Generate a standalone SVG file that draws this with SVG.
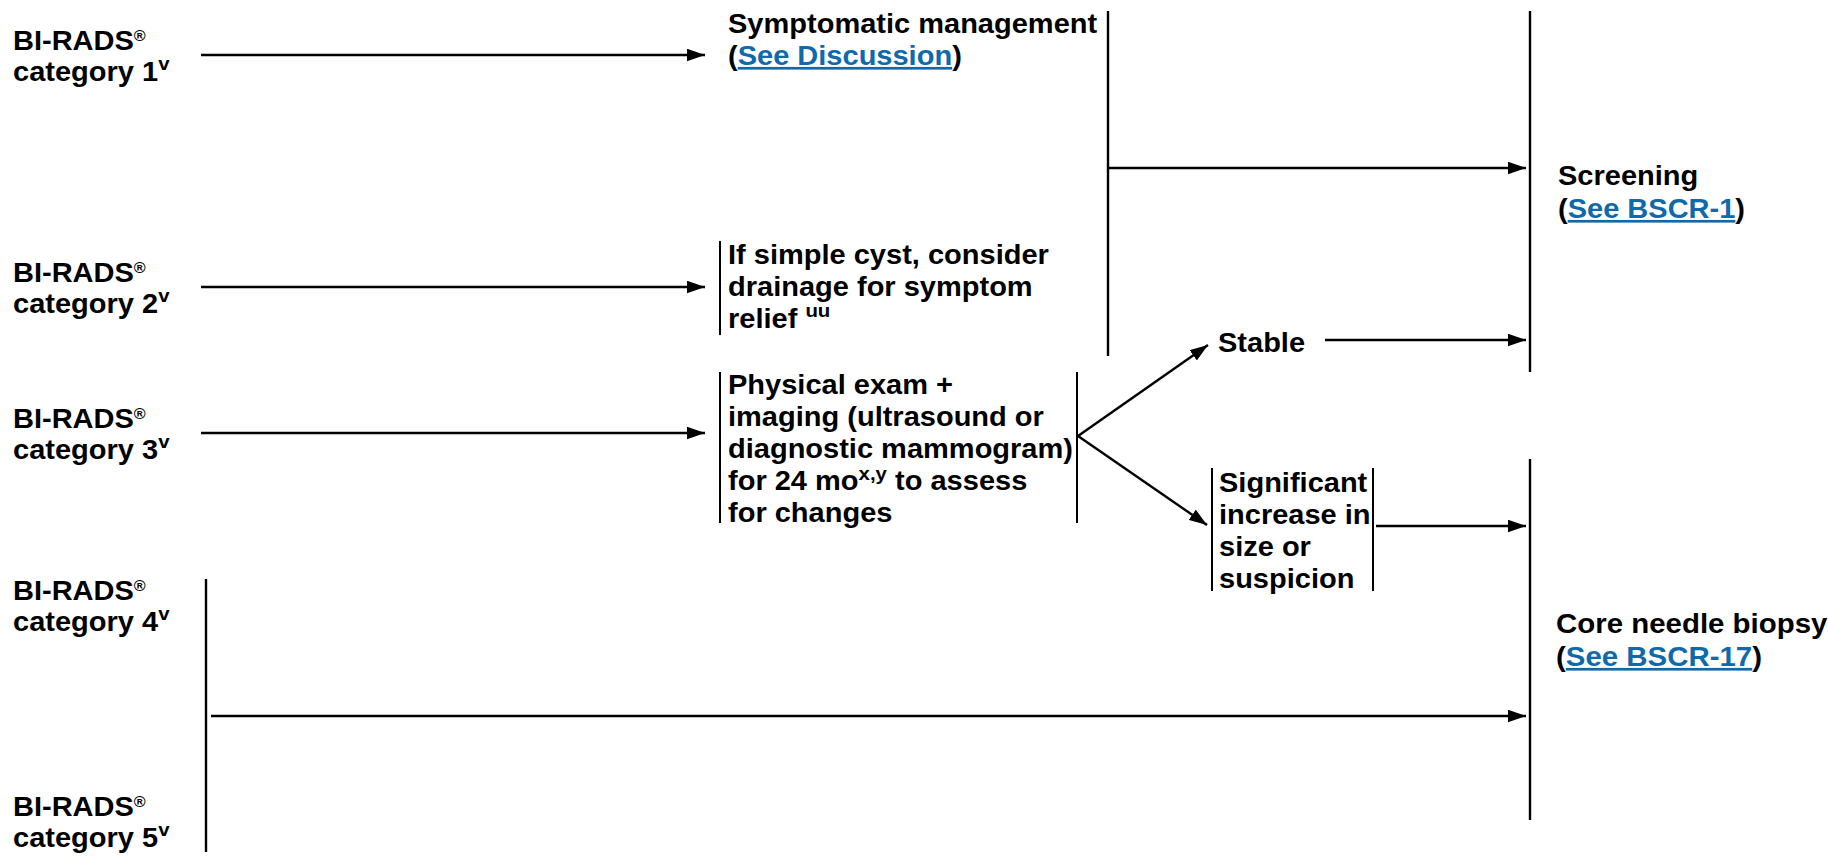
<svg xmlns="http://www.w3.org/2000/svg" width="1828" height="856" viewBox="0 0 1828 856">
<defs>
<style>
.t{font-family:"Liberation Sans",Arial,sans-serif;font-weight:bold;font-size:27px;fill:#000}
.sup{font-size:19px}
.supr{font-size:15px}
.link{fill:#0f69ab;text-decoration:underline}
.ln{stroke:#000;stroke-width:2.4;fill:none}
.br{stroke:#000;stroke-width:2;fill:none}
</style>
<marker id="ah" markerUnits="userSpaceOnUse" markerWidth="18" markerHeight="13" refX="18" refY="6.3" orient="auto">
<path d="M0,0 L18,6.3 L0,12.6 z" fill="#000"/>
</marker>
</defs>
<rect width="1828" height="856" fill="#fff"/>

<g id="cat1"><g transform="matrix(1.075 0 0 1 13 0)">
<text class="t" y="50">BI-RADS<tspan class="supr" dy="-9">®</tspan></text>
<text class="t" y="81">category 1<tspan class="sup" dy="-11">v</tspan></text>
</g></g>

<g id="cat2"><g transform="matrix(1.075 0 0 1 13 0)">
<text class="t" y="282">BI-RADS<tspan class="supr" dy="-9">®</tspan></text>
<text class="t" y="313">category 2<tspan class="sup" dy="-11">v</tspan></text>
</g></g>

<g id="cat3"><g transform="matrix(1.075 0 0 1 13 0)">
<text class="t" y="428">BI-RADS<tspan class="supr" dy="-9">®</tspan></text>
<text class="t" y="459">category 3<tspan class="sup" dy="-11">v</tspan></text>
</g></g>

<g id="cat4"><g transform="matrix(1.075 0 0 1 13 0)">
<text class="t" y="600">BI-RADS<tspan class="supr" dy="-9">®</tspan></text>
<text class="t" y="631">category 4<tspan class="sup" dy="-11">v</tspan></text>
</g></g>

<g id="cat5"><g transform="matrix(1.075 0 0 1 13 0)">
<text class="t" y="816">BI-RADS<tspan class="supr" dy="-9">®</tspan></text>
<text class="t" y="847">category 5<tspan class="sup" dy="-11">v</tspan></text>
</g></g>

<g id="symptomatic"><g transform="matrix(1.075 0 0 1 728 0)">
<text class="t" y="33">Symptomatic management</text>
<text class="t" y="65">(<tspan class="link">See Discussion</tspan>)</text>
</g></g>

<g id="cyst">
<line class="br" x1="720" y1="241" x2="720" y2="335"/>
<g transform="matrix(1.075 0 0 1 728 0)">
<text class="t" y="264">If simple cyst, consider</text>
<text class="t" y="296">drainage for symptom</text>
<text class="t" y="328">relief <tspan class="sup" dy="-11">uu</tspan></text>
</g></g>

<g id="physical">
<line class="br" x1="720" y1="372" x2="720" y2="523"/>
<line class="br" x1="1077" y1="372" x2="1077" y2="523"/>
<g transform="matrix(1.075 0 0 1 728 0)">
<text class="t" y="394">Physical exam +</text>
<text class="t" y="426">imaging (ultrasound or</text>
<text class="t" y="458">diagnostic mammogram)</text>
<text class="t" y="490">for 24 mo<tspan class="sup" dy="-10">x,y</tspan><tspan dy="10"> to assess</tspan></text>
<text class="t" y="522">for changes</text>
</g></g>

<g id="stable"><g transform="matrix(1.075 0 0 1 1218 0)">
<text class="t" y="352">Stable</text>
</g></g>

<g id="significant">
<line class="br" x1="1212" y1="468" x2="1212" y2="591"/>
<line class="br" x1="1373" y1="468" x2="1373" y2="591"/>
<g transform="matrix(1.075 0 0 1 1219 0)">
<text class="t" y="492">Significant</text>
<text class="t" y="524">increase in</text>
<text class="t" y="556">size or</text>
<text class="t" y="588">suspicion</text>
</g></g>

<g id="screening">
<line class="ln" x1="1530" y1="11" x2="1530" y2="372"/>
<g transform="matrix(1.075 0 0 1 1558 0)">
<text class="t" y="185">Screening</text>
<text class="t" y="218">(<tspan class="link">See BSCR-1</tspan>)</text>
</g></g>

<g id="biopsy">
<line class="ln" x1="1530" y1="459" x2="1530" y2="820"/>
<g transform="matrix(1.09 0 0 1 1556 0)">
<text class="t" y="633">Core needle biopsy</text>
<text class="t" y="666">(<tspan class="link">See BSCR-17</tspan>)</text>
</g></g>

<g id="connectors">
<line class="ln" x1="201" y1="55" x2="705" y2="55" marker-end="url(#ah)"/>
<line class="ln" x1="201" y1="287" x2="705" y2="287" marker-end="url(#ah)"/>
<line class="ln" x1="201" y1="433" x2="705" y2="433" marker-end="url(#ah)"/>
<line class="ln" x1="1108" y1="11" x2="1108" y2="356"/>
<line class="ln" x1="1108" y1="168" x2="1526" y2="168" marker-end="url(#ah)"/>
<line class="ln" x1="1078" y1="436" x2="1208" y2="345" marker-end="url(#ah)"/>
<line class="ln" x1="1078" y1="436" x2="1207" y2="525" marker-end="url(#ah)"/>
<line class="ln" x1="1325" y1="340" x2="1526" y2="340" marker-end="url(#ah)"/>
<line class="ln" x1="1376" y1="526" x2="1526" y2="526" marker-end="url(#ah)"/>
<line class="ln" x1="206" y1="579" x2="206" y2="852"/>
<line class="ln" x1="211" y1="716" x2="1526" y2="716" marker-end="url(#ah)"/>
</g>
</svg>
